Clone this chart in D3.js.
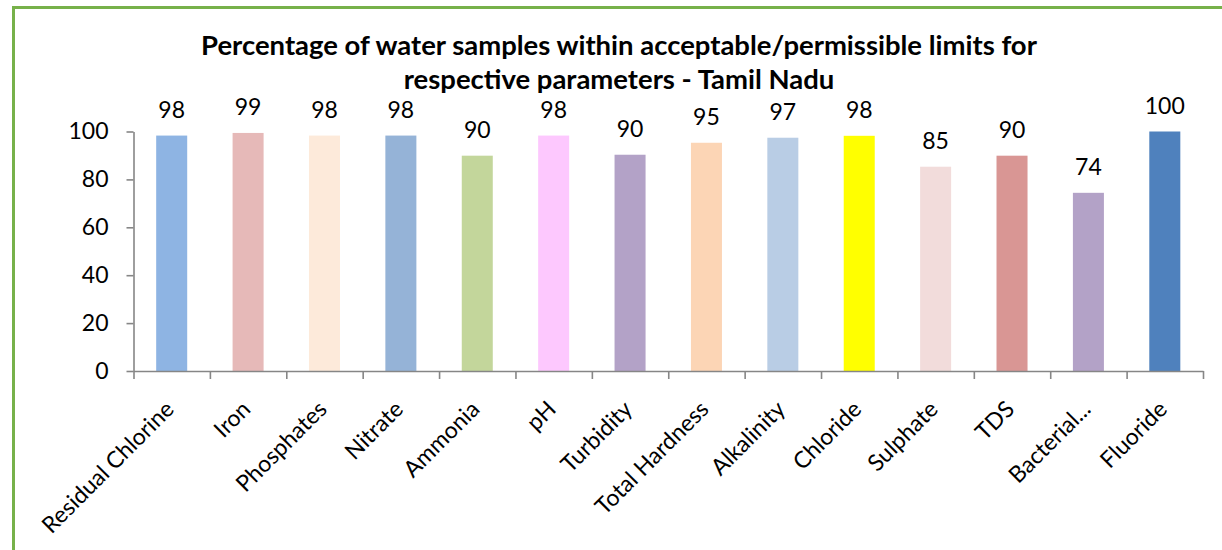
<!DOCTYPE html>
<html><head><meta charset="utf-8">
<script src="https://cdn.jsdelivr.net/npm/d3@7"></script>
<style>body{margin:0;background:#fff;overflow:hidden}</style></head>
<body><svg id="c" width="1222" height="550"></svg>
<script>
const categories = ["Residual Chlorine","Iron","Phosphates","Nitrate","Ammonia","pH","Turbidity","Total Hardness","Alkalinity","Chloride","Sulphate","TDS","Bacterial...","Fluoride"];
const values = [98.3, 99.4, 98.3, 98.3, 89.9, 98.3, 90.3, 95.3, 97.4, 98.2, 85.3, 89.9, 74.4, 100];
const barColors = ["#8EB4E3","#E6B9B8","#FDEADA","#95B3D7","#C3D69B","#FDC8FE","#B3A2C7","#FCD5B5","#B9CDE5","#FFFF00","#F2DCDB","#D99694","#B3A2C7","#4F81BD"];
const yTicks = [0, 20, 40, 60, 80, 100];
const titleLines = ["Percentage of water samples within acceptable/permissible limits for","respective parameters - Tamil Nadu"];

const FONT = "Lato, 'Open Sans', sans-serif";
const FS = 23;
const svg = d3.select("#c");
svg.append("rect").attr("x",0).attr("y",0).attr("width",1222).attr("height",550).attr("fill","#fff");
// outer green frame
svg.append("rect").attr("x",13.5).attr("y",7.5).attr("width",1400).attr("height",1000)
  .attr("fill","none").attr("stroke","#77B14A").attr("stroke-width",3);

const x0 = 133.5, x1 = 1203, yBottom = 371, yTop = 131.5;
const x = d3.scaleBand().domain(categories).range([x0, x1]).paddingInner(0.594).paddingOuter(0.297);
const xIdx = d3.scaleLinear().domain([0, categories.length]).range([x0, x1]);
const y = d3.scaleLinear().domain([0, 100]).range([yBottom, yTop]);

// bars
svg.append("g").selectAll("rect").data(values).join("rect")
  .attr("x", (d,i) => x(categories[i]))
  .attr("y", d => y(d))
  .attr("width", x.bandwidth())
  .attr("height", d => y(0) - y(d))
  .attr("fill", (d,i) => barColors[i]);

// y axis
const gy = svg.append("g").attr("transform", `translate(${x0},0)`)
  .call(d3.axisLeft(y).tickValues(yTicks).tickSize(7).tickSizeOuter(0).tickPadding(18).tickFormat(d3.format("d")));
gy.select(".domain").attr("stroke","#868686").attr("stroke-width",1.6);
gy.selectAll(".tick line").attr("stroke","#868686").attr("stroke-width",1.6);
gy.selectAll(".tick text").attr("font-family",FONT).attr("font-size",FS).attr("fill","#000");

// x axis (category boundary ticks)
const gx = svg.append("g").attr("transform", `translate(0,${yBottom})`)
  .call(d3.axisBottom(xIdx).tickValues(d3.range(categories.length + 1)).tickSize(8).tickSizeOuter(0).tickFormat(""));
gx.select(".domain").attr("stroke","#868686").attr("stroke-width",1.6);
gx.selectAll(".tick line").attr("stroke","#868686").attr("stroke-width",1.6);

// category labels rotated
svg.append("g").selectAll("text").data(categories).join("text")
  .attr("transform", d => `translate(${x(d) + x.bandwidth()/2 - 2},${405}) rotate(-45)`)
  .attr("text-anchor","end").attr("dy","0.35em")
  .attr("font-family",FONT).attr("font-size",FS).attr("fill","#000")
  .text(d => d);

// value labels
const fmt = d3.format(".0f");
svg.append("g").selectAll("text").data(values).join("text")
  .attr("x", (d,i) => x(categories[i]) + x.bandwidth()/2)
  .attr("y", d => y(d) - 18)
  .attr("text-anchor","middle")
  .attr("font-family",FONT).attr("font-size",FS).attr("fill","#000")
  .text(d => fmt(d));

// title
const tl = svg.append("g").selectAll("text").data(titleLines).join("text")
  .attr("x", 619).attr("y", (d,i) => i === 0 ? 55 : 88.5)
  .attr("text-anchor","middle")
  .attr("font-family",FONT).attr("font-weight","bold").attr("font-size",24).attr("fill","#000")
  .text(d => d);
const w0 = tl.nodes()[0].getComputedTextLength();
tl.attr("font-size", 24 * 836 / w0);
</script>
</body></html>
